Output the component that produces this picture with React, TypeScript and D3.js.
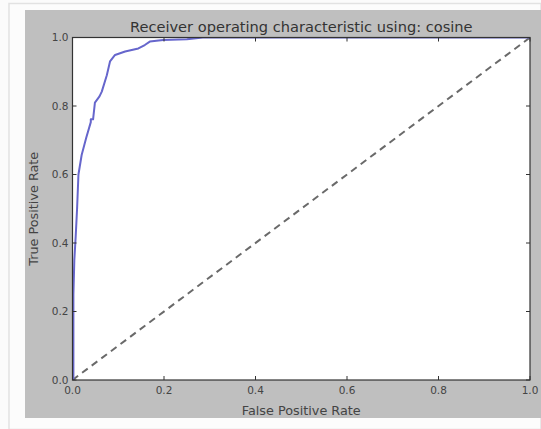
import React from "react";
import * as d3 from "d3";

const fpr = [0, 0.002, 0.002, 0.004, 0.007, 0.01, 0.013, 0.02, 0.03, 0.04, 0.04, 0.045, 0.049, 0.059, 0.064, 0.075, 0.082, 0.093, 0.115, 0.144, 0.158, 0.169, 0.198, 0.25, 0.285, 1.0];
const tpr = [0, 0.0, 0.25, 0.35, 0.42, 0.5, 0.6, 0.657, 0.707, 0.753, 0.761, 0.761, 0.81, 0.828, 0.842, 0.89, 0.93, 0.949, 0.959, 0.968, 0.978, 0.988, 0.993, 0.995, 1.0, 1.0];
const chanceX = [0, 1];
const chanceY = [0, 1];
const tickValues = [0, 0.2, 0.4, 0.6, 0.8, 1.0];
const title = "Receiver operating characteristic using: cosine";
const xLabel = "False Positive Rate";
const yLabel = "True Positive Rate";

const W = 541;
const H = 429;
const plot = { left: 72.5, right: 530, top: 37.5, bottom: 380 };
const font = "'DejaVu Sans', sans-serif";

export default function App() {
  const x = d3.scaleLinear().domain([0, 1]).range([plot.left, plot.right]);
  const y = d3.scaleLinear().domain([0, 1]).range([plot.bottom, plot.top]);
  const line = d3
    .line<number>()
    .x((_, i) => x(fpr[i]))
    .y((d) => y(d));
  const chance = d3
    .line<number>()
    .x((_, i) => x(chanceX[i]))
    .y((d) => y(d));
  const tickLen = 4;
  return (
    <svg
      width={W}
      height={H}
      style={{ position: "absolute", left: 0, top: 0, background: "#fbfbfb" }}
      fontFamily={font}
    >
      <rect x={9} y={3.5} width={W - 9} height={H - 3} fill="#fcfcfc" stroke="#e2e2e2" strokeWidth={1.5} />
      <rect x={25} y={10} width={W - 25} height={408} fill="#bfbfbf" />
      <rect x={plot.left} y={plot.top} width={plot.right - plot.left} height={plot.bottom - plot.top} fill="#ffffff" />
      <defs>
        <clipPath id="clip">
          <rect x={plot.left} y={plot.top} width={plot.right - plot.left} height={plot.bottom - plot.top} />
        </clipPath>
      </defs>
      <g clipPath="url(#clip)">
        <path d={chance(chanceY) || ""} fill="none" stroke="#6a6a6a" strokeWidth={2} strokeDasharray="7,5" />
        <path d={line(tpr) || ""} fill="none" stroke="#6666cc" strokeWidth={2} strokeLinejoin="round" />
      </g>
      {tickValues.map((t) => (
        <g key={"t" + t}>
          <line x1={x(t)} x2={x(t)} y1={plot.bottom} y2={plot.bottom - tickLen} stroke="#333" />
          <line x1={x(t)} x2={x(t)} y1={plot.top} y2={plot.top + tickLen} stroke="#333" />
          <line x1={plot.left} x2={plot.left + tickLen} y1={y(t)} y2={y(t)} stroke="#333" />
          <line x1={plot.right} x2={plot.right - tickLen} y1={y(t)} y2={y(t)} stroke="#333" />
          <text x={x(t)} y={plot.bottom + 14} textAnchor="middle" fontSize={10.5} fill="#444">
            {t.toFixed(1)}
          </text>
          <text x={plot.left - 4} y={y(t) + 3.5} textAnchor="end" fontSize={10.5} fill="#444">
            {t.toFixed(1)}
          </text>
        </g>
      ))}
      <rect
        x={plot.left}
        y={plot.top}
        width={plot.right - plot.left}
        height={plot.bottom - plot.top}
        fill="none"
        stroke="#333"
        strokeWidth={1.2}
      />
      <text x={(plot.left + plot.right) / 2} y={32} textAnchor="middle" fontSize={14.6} fill="#333">
        {title}
      </text>
      <text x={(plot.left + plot.right) / 2} y={414.5} textAnchor="middle" fontSize={12.8} fill="#444">
        {xLabel}
      </text>
      <text
        transform={`translate(37.5, ${(plot.top + plot.bottom) / 2}) rotate(-90)`}
        textAnchor="middle"
        fontSize={12.8}
        fill="#444"
      >
        {yLabel}
      </text>
    </svg>
  );
}
